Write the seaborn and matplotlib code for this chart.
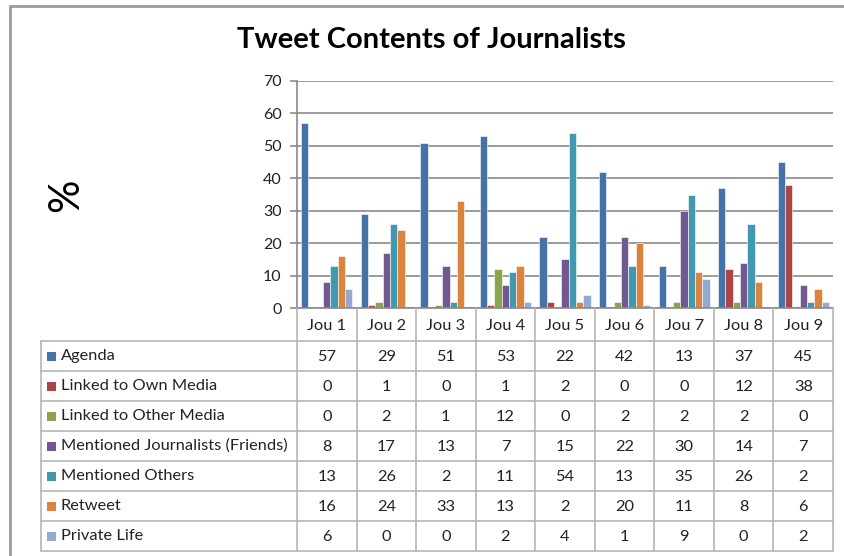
import matplotlib
matplotlib.use("Agg")
import matplotlib.pyplot as plt
from matplotlib.lines import Line2D
from matplotlib.patches import Rectangle
import seaborn as sns
import pandas as pd

# ---- data ----
journalists = ["Jou 1", "Jou 2", "Jou 3", "Jou 4", "Jou 5", "Jou 6", "Jou 7", "Jou 8", "Jou 9"]
series_names = ["Agenda", "Linked to Own Media", "Linked to Other Media",
                "Mentioned Journalists (Friends)", "Mentioned Others", "Retweet", "Private Life"]
agenda = [57, 29, 51, 53, 22, 42, 13, 37, 45]
linked_own = [0, 1, 0, 1, 2, 0, 0, 12, 38]
linked_other = [0, 2, 1, 12, 0, 2, 2, 2, 0]
mentioned_journalists = [8, 17, 13, 7, 15, 22, 30, 14, 7]
mentioned_others = [13, 26, 2, 11, 54, 13, 35, 26, 2]
retweet = [16, 24, 33, 13, 2, 20, 11, 8, 6]
private_life = [6, 0, 0, 2, 4, 1, 9, 0, 2]
yticks = [0, 10, 20, 30, 40, 50, 60, 70]
colors = ["#4572A7", "#AA4643", "#89A54E", "#71588F", "#4198AF", "#DB843D", "#93A9CF"]

series_values = [agenda, linked_own, linked_other, mentioned_journalists,
                 mentioned_others, retweet, private_life]
rows = []
for name, vals in zip(series_names, series_values):
    for j, v in zip(journalists, vals):
        rows.append({"Journalist": j, "Category": name, "Value": v})
df = pd.DataFrame(rows)

W, H = 844, 556
sns.set_theme(style="white")
plt.rcParams["font.family"] = ["Lato", "DejaVu Sans"]

fig = plt.figure(figsize=(W / 100, H / 100), dpi=100)

def fx(x):
    return x / W

def fy(y):
    return 1 - y / H

ax_l, ax_r, ax_t, ax_b = 297, 833, 81, 308
ax = fig.add_axes([fx(ax_l), fy(ax_b), (ax_r - ax_l) / W, (ax_b - ax_t) / H])

sns.barplot(data=df, x="Journalist", y="Value", hue="Category", order=journalists,
            hue_order=series_names, palette=colors, width=0.86, ax=ax,
            legend=False, saturation=1, edgecolor="white", linewidth=0.4)

ax.set_xlim(-0.5, len(journalists) - 0.5)
ax.set_ylim(0, 70)
ax.set_yticks(yticks)
ax.set_yticklabels([str(t) for t in yticks], fontsize=11.5, color="#222222")
ax.set_xticks([])
ax.set_xlabel("")
ax.set_ylabel("")
ax.yaxis.grid(True, color="#8a8a8a", linewidth=1.2)
ax.set_axisbelow(True)
for s in ["top", "right", "bottom"]:
    ax.spines[s].set_visible(False)
ax.spines["left"].set_color("#8a8a8a")
ax.spines["left"].set_linewidth(1.2)
ax.tick_params(axis="y", which="major", direction="out", length=5, width=1.2,
               color="#8a8a8a", pad=6, left=True)

# frame of chart area
fig.add_artist(Line2D([fx(10), fx(W)], [fy(6), fy(6)], color="#9a9a9a", lw=2))
fig.add_artist(Line2D([fx(10), fx(10)], [fy(6), fy(H)], color="#9a9a9a", lw=2))

# title and axis label
fig.text(fx(431), fy(40), "Tweet Contents of Journalists", ha="center", va="center",
         fontsize=21, fontweight="bold", color="black")
fig.text(fx(66), fy(195), "%", ha="center", va="center", rotation=90,
         fontsize=30, color="black")

# ---- data table ----
grid_c = "#b5b5b5"
tbl_left = 41
header_top = ax_b
header_bot = 341
row_h = 30
n_rows = len(series_names)
tbl_bot = header_bot + row_h * n_rows
col_w = (ax_r - ax_l) / len(journalists)
fs = 11.8

# horizontal lines
fig.add_artist(Line2D([fx(ax_l), fx(ax_r)], [fy(header_top), fy(header_top)], color="#8a8a8a", lw=1.2))
for i in range(n_rows + 1):
    y = header_bot + i * row_h
    fig.add_artist(Line2D([fx(tbl_left), fx(ax_r)], [fy(y), fy(y)], color=grid_c, lw=1.2))
# vertical lines
fig.add_artist(Line2D([fx(tbl_left), fx(tbl_left)], [fy(header_bot), fy(tbl_bot)], color=grid_c, lw=1.2))
for k in range(len(journalists) + 1):
    x = ax_l + k * col_w
    fig.add_artist(Line2D([fx(x), fx(x)], [fy(header_top), fy(tbl_bot)], color=grid_c, lw=1.2))

# header labels
for k, j in enumerate(journalists):
    xc = ax_l + (k + 0.5) * col_w
    fig.text(fx(xc), fy((header_top + header_bot) / 2 + 1), j, ha="center", va="center",
             fontsize=fs, color="#222222")

# rows
for i, (name, vals, c) in enumerate(zip(series_names, series_values, colors)):
    yc = header_bot + (i + 0.5) * row_h
    fig.add_artist(Rectangle((fx(47), fy(yc + 4.5)), 9 / W, 9 / H, facecolor=c,
                             edgecolor="none", transform=fig.transFigure))
    fig.text(fx(61), fy(yc), name, ha="left", va="center", fontsize=fs, color="#222222")
    for k, v in enumerate(vals):
        xc = ax_l + (k + 0.5) * col_w
        fig.text(fx(xc), fy(yc + 1), str(v), ha="center", va="center",
                 fontsize=fs, color="#222222")

fig.savefig("out.png", dpi=100)
